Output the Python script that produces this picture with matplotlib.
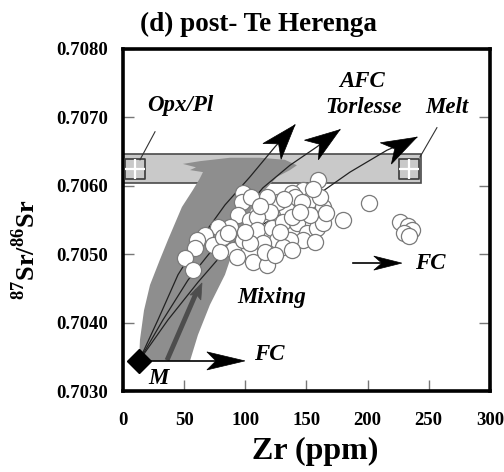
import numpy as np
import matplotlib.pyplot as plt
from matplotlib.patches import Polygon, Rectangle

plt.rcParams['font.family'] = 'Liberation Serif'
plt.rcParams['font.weight'] = 'bold'
plt.rcParams['mathtext.fontset'] = 'custom'
plt.rcParams['mathtext.rm'] = 'Liberation Serif:bold'
plt.rcParams['mathtext.bf'] = 'Liberation Serif:bold'

# samples (Zr ppm, 87Sr/86Sr)
zr = [159.4, 147.1, 138.2, 140.6, 152.9, 163.5, 146.3, 134.1, 126.7, 117.7,
      120.2, 98.1, 97.3, 104.6, 94.0, 103.8, 109.5, 87.5, 77.7, 67.0,
      60.5, 58.9, 50.7, 57.2, 73.6, 81.7, 89.9, 98.1, 109.5, 121.8,
      130.8, 142.2, 150.4, 158.6, 163.5, 147.1, 136.5, 125.9, 114.4, 103.8,
      93.2, 106.3, 117.7, 130.8, 138.2, 152.9, 138.2, 161.0, 179.8, 201.1,
      226.4, 233.0, 236.2, 229.7, 233.8, 85.8, 116.1, 128.3, 99.7, 144.7,
      157.0, 79.3, 124.3, 166.0, 112.0, 132.0, 155.0]
sr = [0.70608, 0.70594, 0.70589, 0.70584, 0.70579, 0.70569, 0.70576, 0.70565, 0.70576, 0.70584,
      0.70562, 0.70589, 0.70576, 0.70584, 0.70557, 0.70550, 0.70554, 0.70540, 0.70540, 0.70528,
      0.70521, 0.70509, 0.70494, 0.70477, 0.70513, 0.70525, 0.70506, 0.70521, 0.70535, 0.70538,
      0.70547, 0.70546, 0.70531, 0.70538, 0.70546, 0.70521, 0.70521, 0.70521, 0.70516, 0.70516,
      0.70496, 0.70489, 0.70484, 0.70511, 0.70506, 0.70557, 0.70554, 0.70584, 0.70550, 0.70575,
      0.70547, 0.70541, 0.70535, 0.70531, 0.70527, 0.70531, 0.70503, 0.70532, 0.70532, 0.70562,
      0.70518, 0.70503, 0.70499, 0.70560, 0.70570, 0.70580, 0.70596]

# parent magma M
m_zr, m_sr = 13.1, 0.70344

# AFC model curves
afc1_zr = [13.1, 28.6, 45.0, 62.9, 83.4, 103.8, 124.3, 140.6]
afc1_sr = [0.70344, 0.70404, 0.70470, 0.70521, 0.70572, 0.70613, 0.70657, 0.70689]
afc2_zr = [13.1, 32.7, 53.1, 72.8, 94.0, 114.4, 136.5, 158.6, 177.4]
afc2_sr = [0.70344, 0.70404, 0.70462, 0.70506, 0.70553, 0.70597, 0.70630, 0.70657, 0.70682]
afc3_zr = [13.1, 36.8, 61.3, 87.5, 120.2, 152.9, 185.6, 215.8, 240.3]
afc3_sr = [0.70344, 0.70404, 0.70459, 0.70513, 0.70550, 0.70579, 0.70620, 0.70652, 0.70671]

# mixing field outline
mix_zr = [13.1, 13.9, 17.2, 22.1, 30.2, 36.8, 48.2, 57.2, 62.9, 65.4, 54.8, 59.7, 49.0, 62.9,
          87.5, 112.0, 132.4, 142.2, 136.5, 125.9, 116.1, 107.9, 99.7, 91.6, 83.4, 71.1, 61.3, 54.8]
mix_sr = [0.70344, 0.70375, 0.70418, 0.70455, 0.70492, 0.70521, 0.70569, 0.70594, 0.70611, 0.70620,
          0.70623, 0.70627, 0.70632, 0.70636, 0.70641, 0.70641, 0.70638, 0.70630, 0.70623, 0.70613,
          0.70594, 0.70575, 0.70547, 0.70513, 0.70470, 0.70426, 0.70382, 0.70344]

# Torlesse / Opx-Pl band
band_zr = [0, 244]
band_sr = [0.70604, 0.70646]
box_zr = [9.5, 234.0]
box_sr = [0.70624, 0.70624]

fig = plt.figure(figsize=(5.04, 4.72), dpi=100)
ax = fig.add_axes([0.244, 0.1716, 0.728, 0.7246])
ax.set_xlim(0, 300)
ax.set_ylim(0.7030, 0.7080)


def head(tip, frm, L, W, N, color='black'):
    # barbed arrow head drawn in pixel space
    t = ax.transData.transform(tip)
    f = ax.transData.transform(frm)
    u = (t - f) / np.hypot(*(t - f))
    n = np.array([-u[1], u[0]])
    pts = [t, t - L * u + W * n, t - (L - N) * u, t - L * u - W * n]
    pts = ax.transData.inverted().transform(np.array(pts))
    ax.add_patch(Polygon(pts, closed=True, fc=color, ec=color, lw=0.5, zorder=6))


ax.add_patch(Rectangle((band_zr[0], band_sr[0]), band_zr[1] - band_zr[0], band_sr[1] - band_sr[0],
                       fc='#c9c9c9', ec='#4a4a4a', lw=1.2, zorder=1))
ax.add_patch(Polygon(np.column_stack([mix_zr, mix_sr]), closed=True, fc='#8e8e8e', ec='none', zorder=2))

ax.scatter(box_zr, box_sr, marker='s', s=210, fc='#c9c9c9', ec='#3a3a3a', lw=1.2, zorder=3)
ax.scatter(box_zr, box_sr, marker='+', s=210, c='white', lw=1.6, zorder=3.5)

for cz, cs in [(afc1_zr, afc1_sr), (afc2_zr, afc2_sr), (afc3_zr, afc3_sr)]:
    ax.plot(cz, cs, color='#222222', lw=0.9, zorder=3)

# thick grey mixing arrow
ax.plot([36, 61], [0.70345, 0.70448], color='#4d4d4d', lw=3.5, solid_capstyle='butt', zorder=3)
head((64.6, 0.70458), (36, 0.70345), 16, 6, 3, color='#4d4d4d')

ax.scatter(zr, sr, s=135, fc='white', ec='#7a7a7a', lw=0.9, zorder=4)

for cz, cs in [(afc1_zr, afc1_sr), (afc2_zr, afc2_sr), (afc3_zr, afc3_sr)]:
    head((cz[-1], cs[-1]), (cz[-3], cs[-3]), 35, 12, 10)

# fractional crystallisation vectors
ax.plot([m_zr, 90], [m_sr, m_sr], color='black', lw=1.2, zorder=5)
head((99.7, m_sr), (m_zr, m_sr), 38, 9, 9)
ax.plot([188, 220], [0.70487, 0.70487], color='black', lw=1.2, zorder=5)
head((228, 0.70487), (188, 0.70487), 28, 7, 8)

ax.plot([m_zr], [m_sr], marker='D', ms=12, color='black', zorder=7)

# leader lines
ax.plot([26.2, 13.9], [0.70679, 0.70638], color='#333333', lw=0.8, zorder=5)
ax.plot([256.7, 242.8], [0.70685, 0.70642], color='#333333', lw=0.8, zorder=5)

lab = dict(fontsize=16.5, fontstyle='italic', fontweight='bold', ha='center', va='center', zorder=8)
ax.text(46.6, 0.70718, 'Opx/Pl', **lab)
ax.text(195.4, 0.70752, 'AFC', **lab)
ax.text(197.0, 0.70714, 'Torlesse', **lab)
ax.text(264.9, 0.70714, 'Melt', **lab)
ax.text(121.8, 0.70437, 'Mixing', **lab)
ax.text(120.0, 0.70354, 'FC', **lab)
ax.text(251.0, 0.70487, 'FC', **lab)
ax.text(29.4, 0.70319, 'M', **lab)

ax.set_xticks([0, 50, 100, 150, 200, 250, 300])
ax.set_yticks([0.7030, 0.7040, 0.7050, 0.7060, 0.7070, 0.7080])
ax.set_yticklabels(['0.7030', '0.7040', '0.7050', '0.7060', '0.7070', '0.7080'])
ax.tick_params(direction='in', length=8, width=1, color='#777777', labelsize=13.5,
               right=True, top=False)
ax.tick_params(axis='y', pad=11)
ax.tick_params(axis='x', pad=15)
for s in ax.spines.values():
    s.set_linewidth(2.6)

fig.text(0.512, 0.948, '(d) post- Te Herenga', fontsize=19.5, fontweight='bold', ha='center', va='center')
fig.text(0.625, 0.043, 'Zr (ppm)', fontsize=23, fontweight='bold', ha='center', va='center')
fig.text(0.05, 0.47, r'$^{87}\mathrm{Sr}/^{86}\mathrm{Sr}$', fontsize=19, rotation=90,
         ha='center', va='center')

fig.savefig('out.png', dpi=100)
